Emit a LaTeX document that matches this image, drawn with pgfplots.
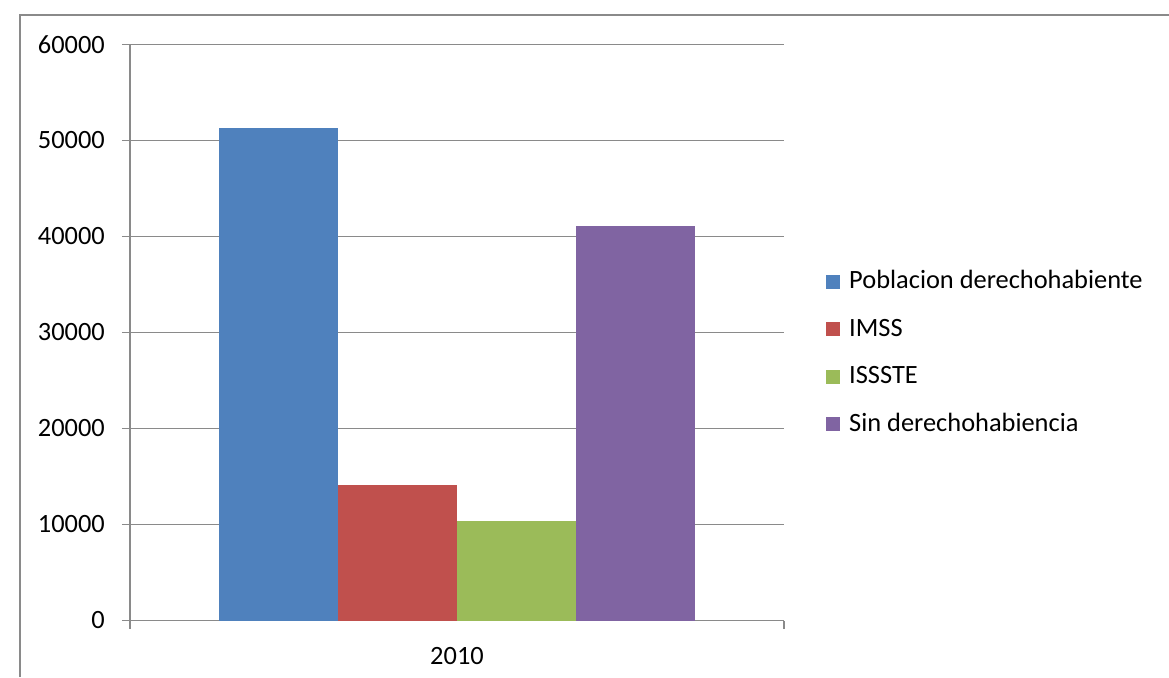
\documentclass[border=0pt]{standalone}
\usepackage{pgfplots}
\pgfplotsset{compat=1.18}
\usepackage{fontspec}
\setmainfont{Carlito}
\definecolor{cblue}{HTML}{4F81BD}
\definecolor{cred}{HTML}{C0504D}
\definecolor{cgreen}{HTML}{9BBB59}
\definecolor{cpurple}{HTML}{8064A2}
\definecolor{cgrid}{HTML}{8A8A8A}
\begin{document}
\fontsize{13.2}{15.8}\selectfont
\begin{tikzpicture}
\begin{axis}[
  scale only axis, width=327pt, height=288.1pt,
  xmin=-0.5, xmax=0.5, ymin=0, ymax=60000,
  ytick={0,10000,...,60000},
  xtick={-0.5,0.5}, xticklabels={},
  extra x ticks={0}, extra x tick labels={2010},
  extra x tick style={major tick length=0pt, xticklabel style={yshift=-9pt}},
  axis x line=bottom, axis y line=left,
  axis line style={-, cgrid, line width=0.8pt},
  tick style={cgrid, line width=0.8pt},
  tick align=outside, major tick length=4pt,
  ymajorgrids, grid style={cgrid, line width=0.8pt},
  scaled y ticks=false,
  /pgf/number format/fixed,
  /pgf/number format/1000 sep={},
  /pgf/number format/assume math mode=true,
  yticklabel style={xshift=-4pt},
  ybar=0pt, bar width=59.5pt,
  clip=false,
  legend style={draw=none, fill=none, at={(1.0548,0.4642)}, anchor=west,
    font=\fontsize{13.2}{15.8}\selectfont,
    row sep=11pt, nodes={inner sep=1pt, anchor=west}, legend cell align=left,
    /tikz/every odd column/.append style={column sep=3.5pt}},
  legend image code/.code={\fill[#1] (0pt,-3.5pt) rectangle (7pt,3.5pt);},
]
\addplot[fill=cblue, draw=none] coordinates {(0,51270)};
\addplot[fill=cred, draw=none] coordinates {(0,14150)};
\addplot[fill=cgreen, draw=none] coordinates {(0,10370)};
\addplot[fill=cpurple, draw=none] coordinates {(0,41100)};
\legend{Poblacion derechohabiente, IMSS, ISSSTE, Sin derechohabiencia}
\coordinate (O) at (rel axis cs:0,0);
\end{axis}
\draw[cgrid,line width=0.7pt] ([xshift=-55pt,yshift=-28.25pt]O) -- ([xshift=-55pt,yshift=302.75pt]O) -- ([xshift=519.5pt,yshift=302.75pt]O);
\pgfresetboundingbox
\path ([xshift=-65pt,yshift=-28.25pt]O) rectangle ([xshift=519.5pt,yshift=310.25pt]O);
\end{tikzpicture}
\end{document}
